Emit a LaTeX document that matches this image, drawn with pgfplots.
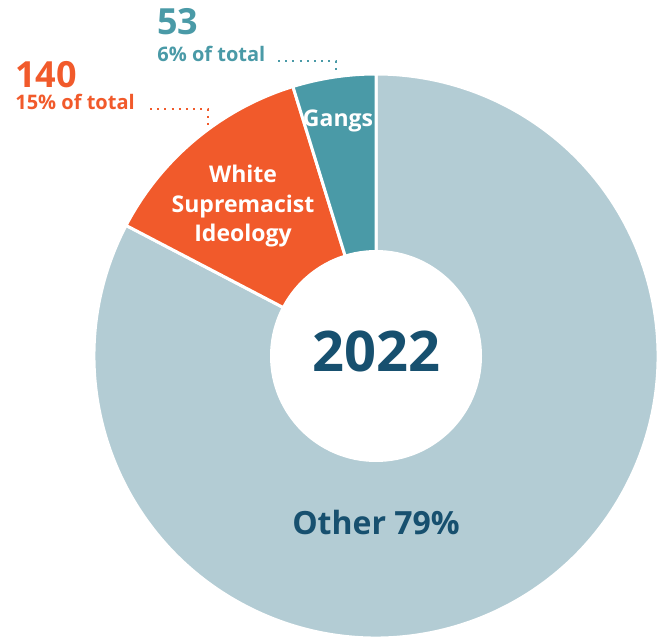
\documentclass[border=0pt]{standalone}
\usepackage{pgfplots}
\usepackage{pgfplotstable}
\pgfplotsset{compat=1.18}
\usepackage{fontspec}
\setmainfont{Open Sans}
\definecolor{otherc}{HTML}{B3CCD4}
\definecolor{wsic}{HTML}{F15A2B}
\definecolor{gangc}{HTML}{4A9AA7}
\definecolor{navy}{HTML}{17506F}

\pgfplotstableread{
label value
Gangs 53
WSI 140
Other 920
}\datatable

\begin{document}
\begin{tikzpicture}
\pgfplotstablegetelem{0}{value}\of\datatable \let\vA\pgfplotsretval
\pgfplotstablegetelem{1}{value}\of\datatable \let\vB\pgfplotsretval
\pgfplotstablegetelem{2}{value}\of\datatable \let\vC\pgfplotsretval
\pgfmathsetmacro{\tot}{\vA+\vB+\vC}
\pgfmathsetmacro{\aA}{90}
\pgfmathsetmacro{\aB}{90+360*(\vA/\tot)}
\pgfmathsetmacro{\aC}{\aB+360*(\vB/\tot)}
\pgfmathsetmacro{\aD}{450}
\begin{axis}[hide axis, x=0.5pt, y=0.5pt, xmin=0, xmax=662, ymin=0, ymax=637,
  clip=true, scale only axis]
\coordinate (SW) at (axis cs:0,0);
\coordinate (NE) at (axis cs:662,637);
\fill[otherc, draw=white, line width=1.5pt, line join=round] (axis cs:376,281) -- ++(\aC:141pt) arc[start angle=\aC, end angle=\aD, radius=141pt] -- cycle;
\fill[wsic, draw=white, line width=1.5pt, line join=round] (axis cs:376,281) -- ++(\aB:141pt) arc[start angle=\aB, end angle=\aC, radius=141pt] -- cycle;
\fill[gangc, draw=white, line width=1.5pt, line join=round] (axis cs:376,281) -- ++(\aA:141pt) arc[start angle=\aA, end angle=\aB, radius=141pt] -- cycle;
\fill[white] (axis cs:376,281) circle[radius=53pt];
% callout lines
\draw[gangc, line width=1pt, dash pattern=on 1pt off 2.6pt] (axis cs:278,576) -- (axis cs:336,576) -- (axis cs:336,565);
\draw[wsic, line width=1pt, dash pattern=on 1pt off 2.6pt] (axis cs:150,528) -- (axis cs:208,528) -- (axis cs:208,512);
% labels
\node[anchor=base west, inner sep=0pt, text=gangc, font=\bfseries\fontsize{18}{18}\selectfont] at (axis cs:157,602) {53};
\node[anchor=base west, inner sep=0pt, text=gangc, font=\bfseries\fontsize{10}{10}\selectfont] at (axis cs:157,575) {6\% of total};
\node[anchor=base west, inner sep=0pt, text=wsic, font=\bfseries\fontsize{18}{18}\selectfont] at (axis cs:15,549) {140};
\node[anchor=base west, inner sep=0pt, text=wsic, font=\bfseries\fontsize{10}{10}\selectfont] at (axis cs:15,527) {15\% of total};
\node[anchor=base, inner sep=0pt, text=white, font=\bfseries\fontsize{11.5}{11.5}\selectfont] at (axis cs:338,510) {Gangs};
\node[anchor=base, inner sep=0pt, text=white, font=\bfseries\fontsize{11.5}{11.5}\selectfont] at (axis cs:243,454) {White};
\node[anchor=base, inner sep=0pt, text=white, font=\bfseries\fontsize{11.5}{11.5}\selectfont] at (axis cs:243,424) {Supremacist};
\node[anchor=base, inner sep=0pt, text=white, font=\bfseries\fontsize{11.5}{11.5}\selectfont] at (axis cs:243,395) {Ideology};
\node[anchor=base, inner sep=0pt, text=navy, font=\bfseries\fontsize{28}{28}\selectfont] at (axis cs:376,265) {2022};
\node[anchor=base, inner sep=0pt, text=navy, font=\bfseries\fontsize{16}{16}\selectfont] at (axis cs:376,103) {Other 79\%};
\end{axis}
\pgfresetboundingbox
\path[use as bounding box] (SW) rectangle (NE);
\end{tikzpicture}
\end{document}
